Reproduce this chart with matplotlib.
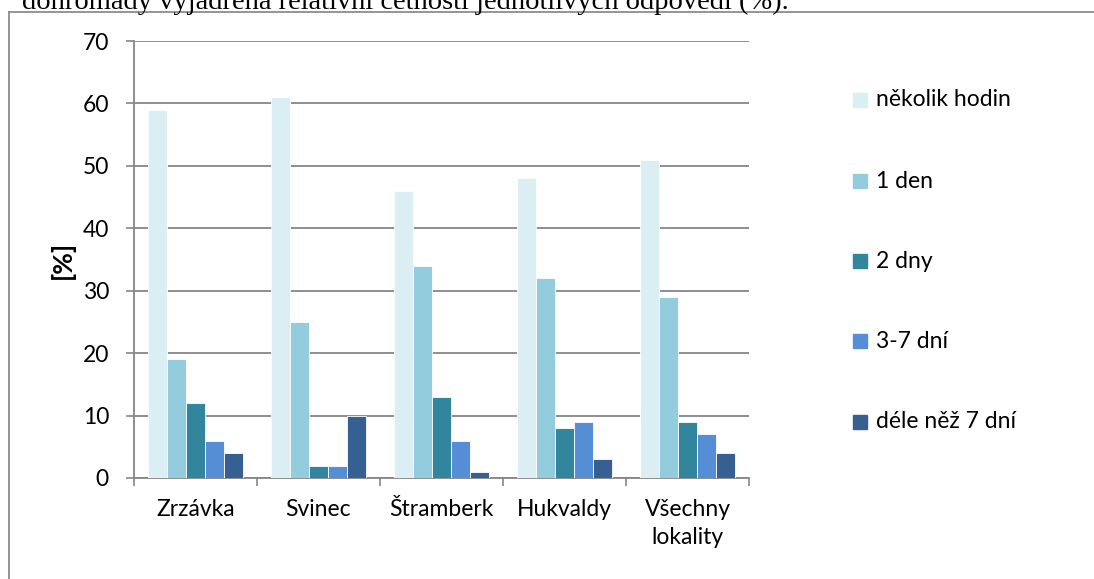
import matplotlib
matplotlib.use("Agg")
import matplotlib.pyplot as plt
import numpy as np
from matplotlib.lines import Line2D

categories = ["Zrzávka", "Svinec", "Štramberk", "Hukvaldy", "Všechny\nlokality"]
series_names = ["několik hodin", "1 den", "2 dny", "3-7 dní", "déle něž 7 dní"]
values = {
    "několik hodin": [59, 61, 46, 48, 51],
    "1 den": [19, 25, 34, 32, 29],
    "2 dny": [12, 2, 13, 8, 9],
    "3-7 dní": [6, 2, 6, 9, 7],
    "déle něž 7 dní": [4, 10, 1, 3, 4],
}
colors = ["#DAEEF3", "#93CDDD", "#31859C", "#558ED5", "#366092"]
yticks = [0, 10, 20, 30, 40, 50, 60, 70]

plt.rcParams['font.family'] = ['Lato', 'DejaVu Sans']
FS = 16.5

W, H = 1094, 579
fig = plt.figure(figsize=(W / 100, H / 100), dpi=100)
ax = fig.add_axes([134 / W, (H - 478) / H, 615 / W, 437 / H])

n = len(series_names)
w = 1 / (n + 1.5)
x = np.arange(len(categories))
for i, name in enumerate(series_names):
    off = (i - (n - 1) / 2) * w
    ax.bar(x + off, values[name], width=w, color=colors[i], label=name,
           edgecolor='white', linewidth=0.6, zorder=3)

ax.set_xlim(-0.5, len(categories) - 0.5)
ax.set_ylim(0, 70)
ax.set_yticks(yticks)
ax.set_yticklabels([str(t) for t in yticks], fontsize=FS)
ax.set_xticks(x)
ax.set_xticklabels(categories, fontsize=FS, linespacing=1.45)
ax.tick_params(axis='x', length=0, pad=15)
ax.tick_params(axis='y', length=6, width=1.2, color='#868686', pad=12)
ax.set_xticks(np.arange(len(categories) + 1) - 0.5, minor=True)
ax.tick_params(axis='x', which='minor', length=6, width=1.2, color='#868686')

ax.grid(axis='y', color='#868686', linewidth=1.3, zorder=0)
for s in ['top', 'right']:
    ax.spines[s].set_visible(False)
for s in ['left', 'bottom']:
    ax.spines[s].set_color('#868686')
    ax.spines[s].set_linewidth(1.3)
ax.set_axisbelow(True)

fig.text(62 / W, 1 - 260 / H, "[%]", rotation=90, fontsize=19, fontweight='bold',
         ha='center', va='center')

# legend
leg_y = [100, 181, 261, 341, 422]
for i, name in enumerate(series_names):
    fig.patches.append(plt.Rectangle((853 / W, 1 - (leg_y[i] + 7) / H), 14 / W, 14 / H,
                                     transform=fig.transFigure, color=colors[i]))
    fig.text(876 / W, 1 - leg_y[i] / H, name, fontsize=FS, va='center', ha='left')

# frame
fig.add_artist(Line2D([8.5 / W, 8.5 / W], [0, 1 - 12 / H], color='#8c8c8c', lw=1.3,
                      transform=fig.transFigure))
fig.add_artist(Line2D([8.5 / W, 1], [1 - 12 / H, 1 - 12 / H], color='#8c8c8c', lw=1.3,
                      transform=fig.transFigure))

# cut-off caption line above the chart
fig.text(22 / W, 1 - 9 / H, "dohromady vyjádřená relativní četností jednotlivých odpovědí (%).",
         fontsize=20.5, family='Liberation Serif', va='baseline', ha='left')

fig.savefig("out.png", dpi=100)
